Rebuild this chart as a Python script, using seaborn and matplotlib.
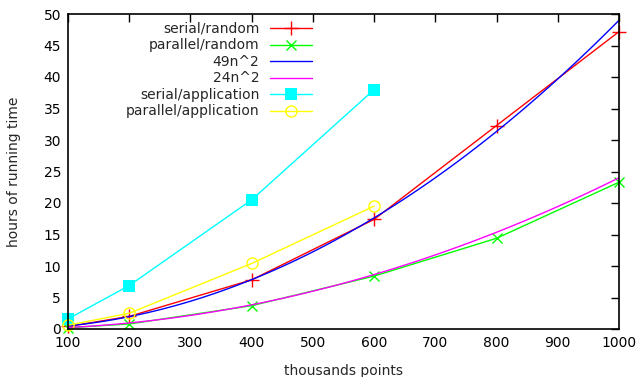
import numpy as np
import matplotlib
matplotlib.use("Agg")
import matplotlib.pyplot as plt
import seaborn as sns

# Measured running times (hours) vs. problem size (thousands of points)
sizes_random = [100, 200, 400, 600, 800, 1000]
serial_random = [0.4, 2.0, 7.8, 17.4, 32.3, 47.2]
parallel_random = [0.2, 0.8, 3.7, 8.4, 14.4, 23.3]

sizes_app = [100, 200, 400, 600]
serial_app = [1.6, 6.9, 20.5, 38.0]
parallel_app = [0.6, 2.5, 10.4, 19.5]

# Quadratic reference curves: coeff * n^2, n in millions of points
fit_coeffs = [49, 24]
fit_labels = ["49n^2", "24n^2"]

xticks = [100, 200, 300, 400, 500, 600, 700, 800, 900, 1000]
yticks = [0, 5, 10, 15, 20, 25, 30, 35, 40, 45, 50]

sns.set_style("white")
plt.rcParams["font.family"] = ["DejaVu Sans"]
plt.rcParams["font.size"] = 10

fig = plt.figure(figsize=(6.4, 3.77), dpi=100)
ax = fig.add_axes([68 / 640, 1 - 329 / 377, (619 - 68) / 640, (329 - 14) / 377])

lw = 1.0
red, green, blue, magenta, cyan, yellow = (
    "#ff0000", "#00ff00", "#0000ff", "#ff00ff", "#00ffff", "#ffff00")

sns.lineplot(x=sizes_random, y=serial_random, ax=ax, color=red, lw=lw,
             marker="+", markersize=9.5, markeredgewidth=1.0, markeredgecolor=red,
             label="serial/random", clip_on=False)
sns.lineplot(x=sizes_random, y=parallel_random, ax=ax, color=green, lw=lw,
             marker="x", markersize=7, markeredgewidth=1.0, markeredgecolor=green,
             label="parallel/random", clip_on=False)

n = np.linspace(100, 1000, 100)
for c, lab, col in zip(fit_coeffs, fit_labels, [blue, magenta]):
    sns.lineplot(x=n, y=c * (n / 1000.0) ** 2, ax=ax, color=col, lw=lw, label=lab)

sns.lineplot(x=sizes_app, y=serial_app, ax=ax, color=cyan, lw=lw,
             marker="s", markersize=8, markeredgewidth=0, markerfacecolor=cyan,
             label="serial/application", clip_on=False)
sns.lineplot(x=sizes_app, y=parallel_app, ax=ax, color=yellow, lw=lw,
             marker="o", markersize=8, markerfacecolor="none", markeredgecolor=yellow,
             markeredgewidth=1.0, label="parallel/application", clip_on=False)

ax.set_xlim(100, 1000)
ax.set_ylim(0, 50)
ax.set_xticks(xticks)
ax.set_yticks(yticks)
ax.tick_params(direction="in", length=6, width=1, top=True, right=True,
               labeltop=False, labelright=False, colors="black", labelsize=10, pad=5)
for s in ax.spines.values():
    s.set_visible(True)
    s.set_color("black")
    s.set_linewidth(1.2)

ax.set_xlabel("thousands points", fontsize=10)
ax.set_ylabel("hours of running time", fontsize=10)
ax.xaxis.set_label_coords(0.5, -0.112)
ax.yaxis.set_label_coords(-0.0845, 0.5)

ax.legend(loc="upper right", bbox_to_anchor=(312 / 640, 1 - 22 / 377),
          bbox_transform=fig.transFigure, frameon=False, markerfirst=False,
          handlelength=3.0, handletextpad=0.8, labelspacing=0.18,
          borderaxespad=0, borderpad=0, fontsize=10)

fig.savefig("out.png", dpi=100)
